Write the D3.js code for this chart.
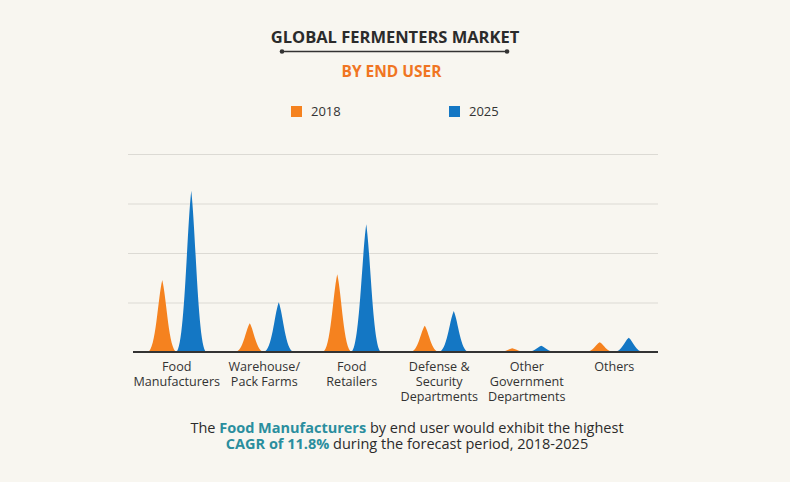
<!DOCTYPE html>
<html><head><meta charset="utf-8">
<script src="https://cdn.jsdelivr.net/npm/d3@7"></script>
<style>
html,body{margin:0;padding:0;background:#f8f6f0;}
svg{display:block;font-family:"Open Sans",sans-serif;}
</style></head>
<body>
<svg id="chart" width="790" height="482"></svg>
<script>
const categories = [
  ["Food","Manufacturers"],
  ["Warehouse/","Pack Farms"],
  ["Food","Retailers"],
  ["Defense &","Security","Departments"],
  ["Other","Government","Departments"],
  ["Others"]
];
const series = ["2018","2025"];
const values2018 = [72.7, 29, 78.5, 26.6, 3.7, 9.8];
const values2025 = [163, 50.2, 129, 41.4, 6.4, 14.4];
const yTicks = [0, 50, 100, 150, 200];
const colors = ["#f5821f", "#1477c4"];

const svg = d3.select("#chart");
const W = 790, H = 482;
svg.append("rect").attr("width", W).attr("height", H).attr("fill", "#f8f6f0");

// Title
svg.append("text").attr("x", 395).attr("y", 43).attr("text-anchor", "middle")
  .attr("font-size", 16.5).attr("font-weight", 700).attr("fill", "#2b2b2b")
  .text("GLOBAL FERMENTERS MARKET");
svg.append("line").attr("x1", 282).attr("x2", 507).attr("y1", 51.5).attr("y2", 51.5)
  .attr("stroke", "#333").attr("stroke-width", 1.3);
[282, 507].forEach(x => svg.append("circle").attr("cx", x).attr("cy", 51.5).attr("r", 2.3).attr("fill", "#333"));
svg.append("text").attr("x", 391.5).attr("y", 76.5).attr("text-anchor", "middle")
  .attr("font-size", 15.5).attr("font-weight", 700).attr("fill", "#f07522")
  .text("BY END USER");

// Legend
const legendX = [291, 449];
series.forEach((s, i) => {
  svg.append("rect").attr("x", legendX[i]).attr("y", 106).attr("width", 11).attr("height", 11).attr("fill", colors[i]);
  svg.append("text").attr("x", legendX[i] + 20).attr("y", 116).attr("font-size", 13).attr("fill", "#333").text(s);
});

// Scales
const x = d3.scaleBand().domain(d3.range(categories.length)).range([133, 658]);
const y = d3.scaleLinear().domain([0, 200]).range([352, 154]);

// Gridlines
svg.append("g").selectAll("line").data(yTicks.slice(1)).join("line")
  .attr("x1", 128).attr("x2", 658)
  .attr("y1", d => y(d) + 0.5).attr("y2", d => y(d) + 0.5)
  .attr("stroke", "#dcdad4").attr("stroke-width", 1);

// Peaks
function peak(cx, v, hw) {
  const b = y(0), t = y(v), h = b - t;
  const p = d3.path();
  p.moveTo(cx - hw, b);
  p.bezierCurveTo(cx - hw * 0.45, b - h * 0.02, cx - hw * 0.3, t + h * 0.25, cx, t);
  p.bezierCurveTo(cx + hw * 0.3, t + h * 0.25, cx + hw * 0.45, b - h * 0.02, cx + hw, b);
  p.closePath();
  return p.toString();
}
const offsets = [-14.5, 14.5];
const halfW = [14.5, 15];
[values2018, values2025].forEach((vals, si) => {
  svg.append("g").selectAll("path").data(vals).join("path")
    .attr("d", (d, i) => peak(x(i) + x.bandwidth() / 2 + offsets[si], d, halfW[si]))
    .attr("fill", colors[si]);
});

// Baseline
svg.append("line").attr("x1", 133).attr("x2", 658).attr("y1", y(0)).attr("y2", y(0))
  .attr("stroke", "#333").attr("stroke-width", 2);

// X labels (one text element per line)
const lab = svg.append("g");
categories.forEach((lines, i) => {
  lines.forEach((l, j) => lab.append("text")
    .attr("x", x(i) + x.bandwidth() / 2).attr("y", 371 + j * 15)
    .attr("text-anchor", "middle").attr("font-size", 12.6).attr("fill", "#333").text(l));
});

// Footer
const f1 = svg.append("text").attr("x", 407).attr("y", 433).attr("text-anchor", "middle")
  .attr("font-size", 14.5).attr("fill", "#2b2b2b");
f1.append("tspan").text("The ");
f1.append("tspan").attr("font-weight", 700).attr("fill", "#2a8e9e").text("Food Manufacturers");
f1.append("tspan").text(" by end user would exhibit the highest");
const f2 = svg.append("text").attr("x", 407).attr("y", 448.5).attr("text-anchor", "middle")
  .attr("font-size", 14.5).attr("fill", "#2b2b2b");
f2.append("tspan").attr("font-weight", 700).attr("fill", "#2a8e9e").text("CAGR of 11.8%");
f2.append("tspan").text(" during the forecast period, 2018-2025");
</script>
</body></html>
